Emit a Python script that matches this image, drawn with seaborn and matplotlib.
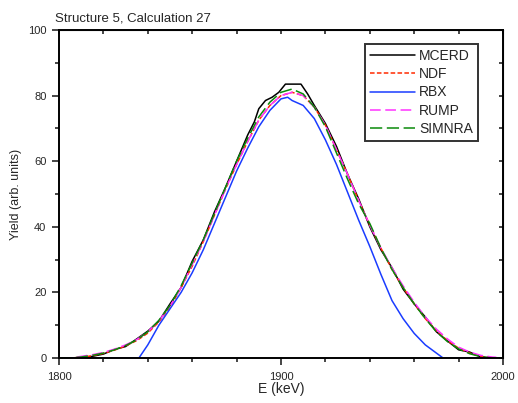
import numpy as np
import pandas as pd
import matplotlib
matplotlib.use("Agg")
import matplotlib.pyplot as plt
import seaborn as sns
from matplotlib.ticker import MultipleLocator

# ---- data ----
E_mcerd = [1800, 1805, 1810, 1815, 1820, 1825, 1830, 1835, 1840, 1845, 1850, 1855, 1860, 1865,
           1870, 1875, 1880, 1885, 1888, 1890, 1893, 1896, 1899, 1902, 1909, 1912, 1915, 1920,
           1925, 1930, 1935, 1940, 1945, 1950, 1955, 1960, 1965, 1970, 1975, 1980, 1985, 1990,
           1995, 2000]
Y_mcerd = [0, 0, 0, 0.5, 1.2, 2.6, 3.5, 5.8, 8.2, 11.2, 16.5, 21.5, 29.5, 36,
           44.5, 52, 60, 68, 72, 76, 78.5, 79.5, 81, 83.5, 83.5, 80.5, 77, 71.5,
           64.5, 56, 48.5, 40, 33, 27.5, 21, 16.5, 12.5, 8, 5.2, 2.5, 1.8, 0.3,
           0, 0]

E_grid = [1800, 1805, 1810, 1815, 1820, 1825, 1830, 1835, 1840, 1845, 1850, 1855, 1860, 1865,
          1870, 1875, 1880, 1885, 1890, 1895, 1900, 1905, 1910, 1915, 1920, 1925, 1930, 1935,
          1940, 1945, 1950, 1955, 1960, 1965, 1970, 1975, 1980, 1985, 1990, 1995, 2000]
Y_ndf = [0, 0, 0.2, 0.7, 1.4, 2.4, 3.7, 5.3, 7.6, 11, 15.5, 21.5, 28, 35.5,
         43.5, 51.5, 59, 66, 72.5, 77, 80, 81, 80, 76.5, 71, 63.5, 56, 48,
         40.5, 33.5, 27, 21.5, 16.5, 12, 8.3, 5.3, 3, 1.5, 0.5, 0.1, 0]
Y_simnra = [0, 0, 0.3, 0.8, 1.5, 2.5, 3.8, 5.5, 8, 11.5, 16, 22, 29, 36,
            44, 52, 60, 67, 73.5, 78, 81, 82, 80.5, 76.5, 70.5, 62.5, 54.5, 47,
            41, 33.5, 27, 21.5, 16.5, 12, 8, 5, 2.8, 1.3, 0.4, 0, 0]

E_rbx = [1800, 1836, 1840, 1845, 1850, 1855, 1860, 1865, 1870, 1875, 1880, 1885, 1890, 1895,
         1900, 1903, 1905, 1910, 1915, 1920, 1925, 1930, 1935, 1940, 1945, 1950, 1955, 1960,
         1965, 1970, 1973, 2000]
Y_rbx = [0, 0, 4, 10, 15, 20, 26, 33, 41, 49, 57, 64, 70.5, 75.5,
         79, 79.5, 78.5, 77, 73, 66.5, 59, 50.5, 42, 34, 25.5, 17.5, 12, 7.5,
         4, 1.5, 0, 0]

E_rump = [1808, 1810, 1815, 1820, 1825, 1830, 1835, 1840, 1845, 1850, 1855, 1860, 1865, 1870,
          1875, 1880, 1885, 1890, 1895, 1900, 1905, 1910, 1915, 1920, 1925, 1930, 1935, 1940,
          1945, 1950, 1955, 1960, 1965, 1970, 1975, 1980, 1985, 1990, 1995, 1997]
Y_rump = [0.3, 0.5, 1.0, 1.7, 2.7, 4.0, 5.6, 8.0, 11.3, 15.8, 21.5, 28.5, 35.5, 43.5,
          51.5, 59, 66, 72.5, 77, 80, 81, 80, 76.5, 71, 63.5, 56, 48, 40.5,
          33.5, 27.5, 22, 17, 12.5, 8.8, 5.8, 3.3, 1.8, 0.8, 0.3, 0.2]

series = ["MCERD", "NDF", "RBX", "RUMP", "SIMNRA"]

frames = [
    pd.DataFrame({"E": E_mcerd, "Y": Y_mcerd, "code": "MCERD"}),
    pd.DataFrame({"E": E_grid, "Y": Y_ndf, "code": "NDF"}),
    pd.DataFrame({"E": E_rbx, "Y": Y_rbx, "code": "RBX"}),
    pd.DataFrame({"E": E_rump, "Y": Y_rump, "code": "RUMP"}),
    pd.DataFrame({"E": E_grid, "Y": Y_simnra, "code": "SIMNRA"}),
]
df = pd.concat(frames, ignore_index=True)

sns.set_style("ticks")
plt.rcParams["font.family"] = ["Liberation Sans", "DejaVu Sans"]

fig = plt.figure(figsize=(5.18, 4.03), dpi=100)
ax = fig.add_axes([59 / 518, 45 / 403, 444 / 518, 328 / 403])

palette = {"MCERD": "black", "NDF": "#ff2a00", "RBX": "#1a3cff", "RUMP": "#ff33ff", "SIMNRA": "#0a8a0a"}
dashes = {"MCERD": "", "NDF": (3, 1.5), "RBX": "", "RUMP": (7, 3), "SIMNRA": (8, 3)}

sns.lineplot(data=df, x="E", y="Y", hue="code", style="code", hue_order=series,
             style_order=series, palette=palette, dashes=dashes, linewidth=1.1,
             estimator=None, sort=False, ax=ax)

ax.set_xlim(1800, 2000)
ax.set_ylim(0, 100)
ax.xaxis.set_major_locator(MultipleLocator(100))
ax.xaxis.set_minor_locator(MultipleLocator(20))
ax.yaxis.set_major_locator(MultipleLocator(20))
ax.yaxis.set_minor_locator(MultipleLocator(10))
ax.tick_params(axis="both", which="major", direction="out", length=5, width=1.2,
               labelsize=8, pad=4)
ax.tick_params(axis="both", which="minor", direction="out", length=3, width=1.2)
ax.tick_params(axis="x", which="major", pad=5)

for s in ax.spines.values():
    s.set_linewidth(1.4)
    s.set_color("black")

# top and right inward ticks
axt = ax.secondary_xaxis("top")
axt.xaxis.set_major_locator(MultipleLocator(20))
axt.tick_params(direction="in", length=3, width=1.2, labeltop=False)
axr = ax.secondary_yaxis("right")
axr.yaxis.set_major_locator(MultipleLocator(10))
axr.tick_params(direction="in", length=3, width=1.2, labelright=False)

ax.set_xlabel("E (keV)", fontsize=10, labelpad=0)
ax.set_ylabel("Yield (arb. units)", fontsize=9, labelpad=4)
ax.set_title("Structure 5, Calculation 27", fontsize=9.5, loc="left", x=-0.01, pad=6)

leg = ax.legend(loc="upper right", bbox_to_anchor=(0.96, 0.98), fontsize=10,
                handlelength=3.2, handletextpad=0.3, labelspacing=0.3,
                borderpad=0.4, frameon=True, fancybox=False, title=None)
leg.get_frame().set_edgecolor("black")
leg.get_frame().set_linewidth(1.4)

fig.savefig("out.png", dpi=100)
